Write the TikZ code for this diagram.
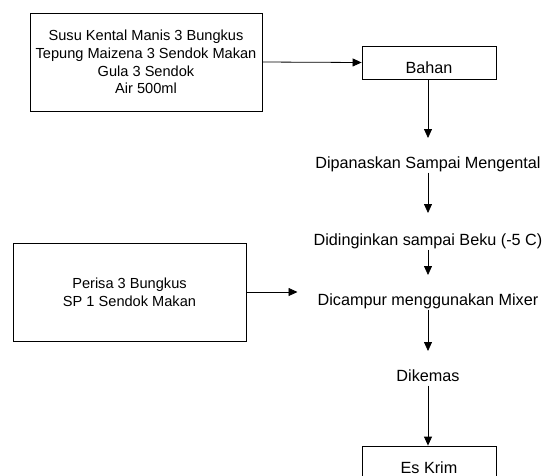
\documentclass[tikz,border=0pt]{standalone}
\usepackage{fontspec}
\setmainfont{Liberation Sans}
\usetikzlibrary{arrows.meta}

\tikzset{
    kotak/.style={draw, rectangle, align=center, line width=0.8pt, font=\fontsize{14.6}{17.6}\selectfont},
    proses/.style={draw, rectangle, line width=0.8pt, minimum width=134pt, minimum height=33pt, text height=21.5pt, text depth=0pt, font=\fontsize{16.2}{19.5}\selectfont},
    langkah/.style={anchor=base, inner sep=1pt, text height=11.8pt, text depth=3.5pt, font=\fontsize{16.2}{19.5}\selectfont},
    panah/.style={-{Triangle[width=8pt,length=9pt]}, line width=0.8pt}
}

\begin{document}
\begin{tikzpicture}[x=1pt, y=-1pt]
    \useasboundingbox (0,0) rectangle (547,475);
    \clip (0,0) rectangle (547,475);

    % Bahan awal
    \node[kotak, minimum width=232pt, minimum height=98pt] (susu) at (146,62)
        {Susu Kental Manis 3 Bungkus\\Tepung Maizena 3 Sendok Makan\\Gula 3 Sendok\\Air 500ml};
    \node[proses] (bahan) at (429,62.5) {Bahan};
    \draw[panah] (susu.east) -- (bahan.west);

    % Langkah pembuatan
    \node[langkah] (panas) at (428,168) {Dipanaskan Sampai Mengental};
    \node[langkah] (dingin) at (428,245) {Didinginkan sampai Beku (-5 C)};
    \node[langkah] (campur) at (428,305) {Dicampur menggunakan Mixer};
    \node[langkah] (kemas) at (428,381) {Dikemas};
    \node[proses] (eskrim) at (429,462.5) {Es Krim};

    % Bahan tambahan
    \node[kotak, minimum width=233pt, minimum height=98pt] (perisa) at (129.5,292)
        {Perisa 3 Bungkus\\SP 1 Sendok Makan};
    \draw[panah, shorten >=19pt] (perisa.east) -- (perisa.east -| campur.west);

    % Alur
    \draw[panah, shorten >=17pt] (bahan.south -| panas) -- (panas.north);
    \draw[panah, shorten >=19pt] (panas.south) -- (dingin.north);
    \draw[panah, shorten >=17pt] (dingin.south) -- (campur.north);
    \draw[panah, shorten >=17pt] (campur.south) -- (kemas.north);
    \draw[panah] (kemas.south) -- (kemas.south |- eskrim.north);
\end{tikzpicture}
\end{document}
